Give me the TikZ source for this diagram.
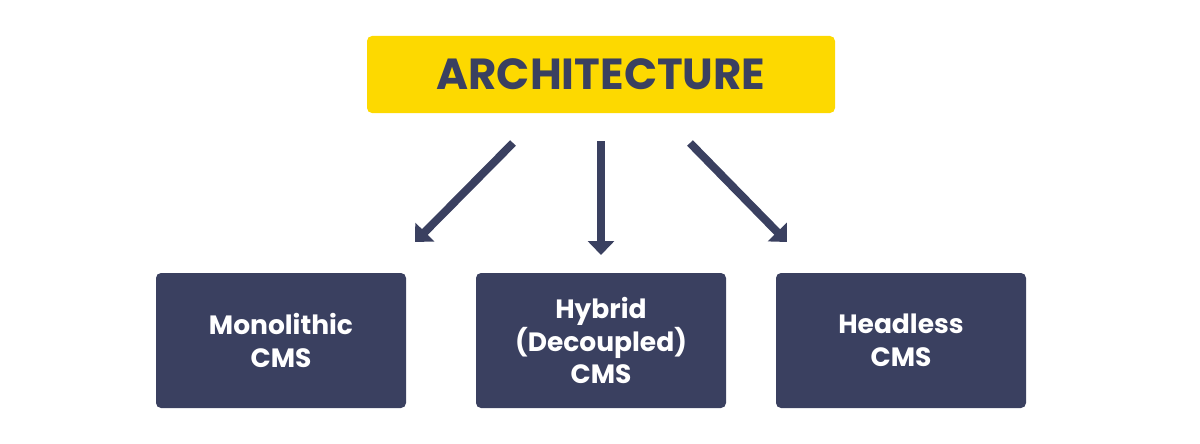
\documentclass[tikz,border=0pt]{standalone}
\usepackage{fontspec}
\newfontfamily\poppins{Poppins}
\usetikzlibrary{positioning,arrows.meta}
\definecolor{navyblue}{HTML}{3A4060}
\definecolor{archyellow}{HTML}{FDD900}

\begin{document}
\begin{tikzpicture}[x=1pt, y=-1pt,
    headbox/.style={rectangle, rounded corners=5pt, fill=archyellow, text=navyblue,
        minimum width=468pt, minimum height=77pt, font=\poppins\bfseries\fontsize{43.5}{50}\selectfont},
    typebox/.style={rectangle, rounded corners=5pt, fill=navyblue, text=white, align=center,
        minimum width=250pt, minimum height=135pt, font=\poppins\bfseries\fontsize{26.5}{32.5}\selectfont},
    arr/.style={-{Triangle[width=26pt,length=14pt]}, line width=8pt, navyblue}]
        \useasboundingbox (0,0) rectangle (1200,444);

        % Title box
        \node[headbox] (arch) at (601,74.5) {ARCHITECTURE};

        % Three kinds of CMS
        \node[typebox] (mono) at (281,340.5) {Monolithic\\CMS};
        \node[typebox] (hybrid) at (601,340.5) {Hybrid\\(Decoupled)\\CMS};
        \node[typebox] (headless) at (901,340.5) {Headless\\CMS};

        % Arrow ends
        \coordinate (a1) at (513,143);
        \coordinate (b1) at (415,242);
        \coordinate (a2) at (601,141);
        \coordinate (b2) at (601,255);
        \coordinate (a3) at (690,143);
        \coordinate (b3) at (787,242);

        % Arrows
        \foreach \i in {1,2,3}
            \draw[arr] (a\i) -- (b\i);
    \end{tikzpicture}
\end{document}
